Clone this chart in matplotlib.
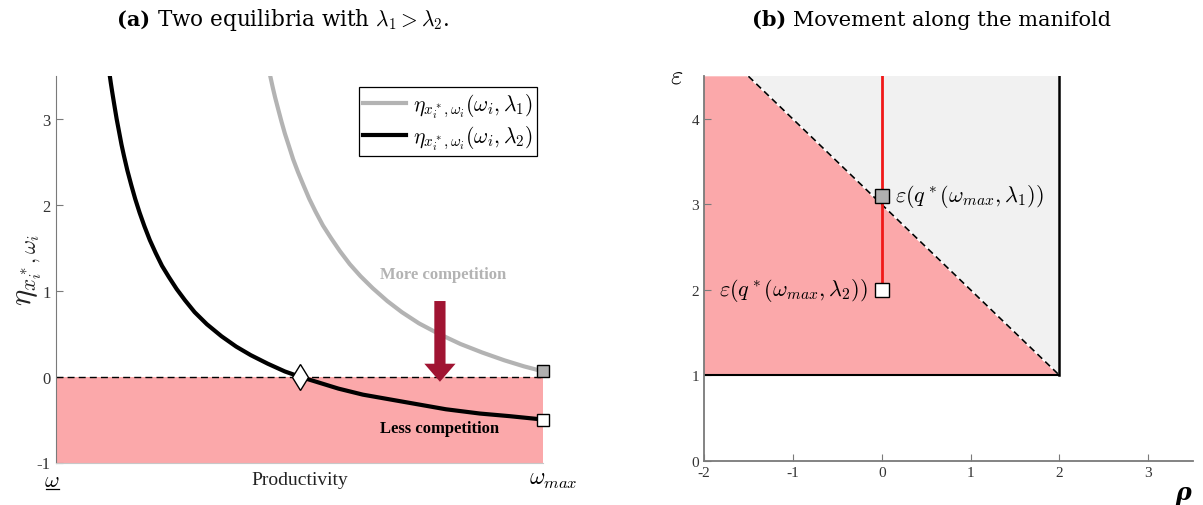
import matplotlib

matplotlib.use("Agg")
import matplotlib.pyplot as plt
from matplotlib.lines import Line2D
from matplotlib.patches import FancyArrow, Polygon, Rectangle

plt.rcParams["font.family"] = "serif"
plt.rcParams["font.serif"] = ["Liberation Serif", "DejaVu Serif"]
plt.rcParams["mathtext.fontset"] = "cm"

# panel (a): elasticity curves over normalised productivity
omega_lam1 = [0.44, 0.445, 0.45, 0.456, 0.463, 0.47, 0.478, 0.487, 0.497,
              0.508, 0.52, 0.533, 0.548, 0.565, 0.583, 0.603, 0.625, 0.65,
              0.68, 0.71, 0.745, 0.785, 0.83, 0.875, 0.92, 0.96, 1.00]
eta_lam1 = [3.50, 3.37, 3.25, 3.12, 2.97, 2.83, 2.69, 2.53, 2.38,
            2.23, 2.07, 1.92, 1.76, 1.61, 1.46, 1.31, 1.17, 1.03,
            0.88, 0.75, 0.62, 0.50, 0.38, 0.28, 0.19, 0.12, 0.06]
omega_lam2 = [0.111, 0.113, 0.116, 0.12, 0.125, 0.13, 0.135, 0.14, 0.147,
              0.155, 0.163, 0.172, 0.182, 0.193, 0.205, 0.218, 0.232, 0.248,
              0.265, 0.285, 0.31, 0.34, 0.37, 0.40, 0.435, 0.47, 0.50, 0.54,
              0.58, 0.63, 0.68, 0.74, 0.80, 0.87, 0.93, 1.00]
eta_lam2 = [3.50, 3.42, 3.31, 3.17, 3.00, 2.85, 2.70, 2.57, 2.40,
            2.23, 2.07, 1.91, 1.75, 1.59, 1.44, 1.29, 1.16, 1.02,
            0.89, 0.75, 0.61, 0.47, 0.35, 0.25, 0.15, 0.06, 0.00, -0.07,
            -0.14, -0.21, -0.26, -0.32, -0.38, -0.43, -0.46, -0.50]
omega_cross, eta_cross = 0.50, 0.0
omega_max = 1.0
eta_yticks = [-1, 0, 1, 2, 3]

# panel (b): manifold in (rho, epsilon)
rho_ticks = [-2, -1, 0, 1, 2, 3]
eps_ticks = [0, 1, 2, 3, 4]
rho_manifold = [-1.5, 2.0]
eps_manifold = [4.5, 1.0]
rho_q = 0.0
eps_q_lam1 = 3.1
eps_q_lam2 = 2.0

PINK = "#fba8aa"
LIGHT = "#f1f1f1"
GREY_CURVE = "#b3b3b3"
SPINE = "#7a7a7a"
ARROW = "#a01432"
TITLE_FONT = "DejaVu Serif"

W, H = 1203, 506
fig = plt.figure(figsize=(W / 100, H / 100), dpi=100)

# ---------------- panel (a) ----------------
axL = fig.add_axes([55.7 / W, 42.5 / H, 487.6 / W, 386.5 / H])
axL.set_xlim(0, omega_max)
axL.set_ylim(-1, 3.5)

axL.add_patch(Rectangle((0, -1), omega_max, 1, facecolor=PINK,
                        edgecolor="none", zorder=1))
axL.plot([0, omega_max], [0, 0], color="black", lw=1, dashes=(5, 3), zorder=2)
axL.plot(omega_lam1, eta_lam1, color=GREY_CURVE, lw=3, zorder=3,
         solid_joinstyle="round",
         label=r"$\eta_{x_i^*,\omega_i}(\omega_i,\lambda_1)$")
axL.plot(omega_lam2, eta_lam2, color="black", lw=3, zorder=3,
         solid_joinstyle="round",
         label=r"$\eta_{x_i^*,\omega_i}(\omega_i,\lambda_2)$")
axL.plot(omega_cross, eta_cross, marker="d", ms=13, mfc="white", mec="black",
         mew=1, zorder=5, clip_on=False)
axL.plot(omega_lam1[-1], eta_lam1[-1], marker="s", ms=9, mfc="#b0b0b0",
         mec="black", mew=1, zorder=5, clip_on=False)
axL.plot(omega_lam2[-1], eta_lam2[-1], marker="s", ms=9, mfc="white",
         mec="black", mew=1, zorder=5, clip_on=False)

axL.add_patch(FancyArrow(0.788, 0.88, 0, -0.94, width=0.023, head_width=0.064,
                         head_length=0.21, length_includes_head=True,
                         color=ARROW, lw=0, zorder=4))
axL.text(0.795, 1.20, "More competition", color=GREY_CURVE, fontsize=12,
         fontweight="bold", ha="center", va="center")
axL.text(0.788, -0.60, "Less competition", color="black", fontsize=12,
         fontweight="bold", ha="center", va="center")

leg = axL.legend(loc="upper right", bbox_to_anchor=(0.987, 0.9715),
                 borderaxespad=0, fontsize=15.5, fancybox=False, framealpha=1,
                 edgecolor="black", handlelength=2.0, handletextpad=0.3,
                 borderpad=0.2, labelspacing=0.15)
leg.get_frame().set_linewidth(0.9)

for side in ("top", "right"):
    axL.spines[side].set_visible(False)
axL.spines["left"].set_color(SPINE)
axL.spines["bottom"].set_color("#c8c8c8")
axL.set_yticks(eta_yticks)
axL.set_yticklabels([str(t) for t in eta_yticks])
axL.set_xticks([])
axL.tick_params(axis="y", direction="in", length=5, color=SPINE,
                labelcolor="#333333", labelsize=12)

axL.text(-0.053, 0.5, r"$\eta_{x_i^*,\omega_i}$", transform=axL.transAxes,
         rotation=90, fontsize=22, ha="center", va="center", color="#222222")
xlab_y = -0.045
axL.text(-0.008, xlab_y - 0.005, r"$\omega$", transform=axL.transAxes,
         fontsize=16, ha="center", va="center")
fig.add_artist(Line2D([46 / W, 59 / W], [1 - 490 / H, 1 - 490 / H],
                      color="black", lw=0.9))
axL.text(0.5, xlab_y, "Productivity", transform=axL.transAxes, fontsize=14,
         ha="center", va="center", color="#222222")
axL.text(1.02, xlab_y, r"$\omega_{max}$", transform=axL.transAxes,
         fontsize=17, ha="center", va="center")

# ---------------- panel (b) ----------------
axR = fig.add_axes([704 / W, 44.3 / H, 488.7 / W, 384.4 / H])
axR.set_xlim(-2, 3.5)
axR.set_ylim(0, 4.5)

axR.add_patch(Polygon([(rho_manifold[0], eps_manifold[0]), (2, 4.5),
                       (rho_manifold[1], eps_manifold[1])],
                      closed=True, facecolor=LIGHT, edgecolor="none", zorder=1))
axR.add_patch(Polygon([(-2, 1), (rho_manifold[1], eps_manifold[1]),
                       (rho_manifold[0], eps_manifold[0]), (-2, 4.5)],
                      closed=True, facecolor=PINK, edgecolor="none", zorder=1))
axR.plot(rho_manifold, eps_manifold, color="white", lw=1.3, zorder=2)
axR.plot(rho_manifold, eps_manifold, color="black", lw=1.2, dashes=(4, 2.5),
         zorder=2)
axR.plot([2, 2], [1, 4.5], color="black", lw=1.8, zorder=2)
axR.plot([-2, 2], [1, 1], color="black", lw=1.5, zorder=2)
axR.plot([rho_q, rho_q], [eps_q_lam2, 4.5], color="#f01818", lw=2, zorder=3)
axR.plot(rho_q, eps_q_lam1, marker="s", ms=10, mfc="#b0b0b0", mec="black",
         mew=1, zorder=5)
axR.plot(rho_q, eps_q_lam2, marker="s", ms=10, mfc="white", mec="black",
         mew=1, zorder=5)
axR.text(0.15, eps_q_lam1, r"$\varepsilon(q^*(\omega_{max},\lambda_1))$",
         fontsize=16, ha="left", va="center")
axR.text(-0.16, eps_q_lam2, r"$\varepsilon(q^*(\omega_{max},\lambda_2))$",
         fontsize=16, ha="right", va="center")

for side in ("top", "right"):
    axR.spines[side].set_visible(False)
for side in ("left", "bottom"):
    axR.spines[side].set_color(SPINE)
    axR.spines[side].set_linewidth(1.3)
axR.set_xticks(rho_ticks)
axR.set_xticklabels([str(t) for t in rho_ticks])
axR.set_yticks(eps_ticks)
axR.set_yticklabels([str(t) for t in eps_ticks])
axR.tick_params(direction="in", length=5, color=SPINE, labelcolor="#333333",
                labelsize=11)

fig.text(677 / W, 1 - 77 / H, r"$\varepsilon$", fontsize=19, ha="center",
         va="center")
fig.text(1183 / W, 1 - 493 / H, "ρ", fontsize=17, fontweight="bold",
         fontstyle="italic", family="DejaVu Serif", ha="center", va="center")

# panel titles: bold tag followed by the caption
title_y = 1 - 26 / H
fig.text(117 / W, title_y, "(a)", fontsize=15, fontweight="bold",
         family=TITLE_FONT, ha="left", va="baseline")
fig.text(157 / W, title_y, r"Two equilibria with $\lambda_1 > \lambda_2$.",
         fontsize=15.5, family=TITLE_FONT, ha="left", va="baseline")
fig.text(752 / W, title_y, "(b)", fontsize=15, fontweight="bold",
         family=TITLE_FONT, ha="left", va="baseline")
fig.text(793 / W, title_y, "Movement along the manifold", fontsize=15,
         family=TITLE_FONT, ha="left", va="baseline")

fig.savefig("out.png", dpi=100)
